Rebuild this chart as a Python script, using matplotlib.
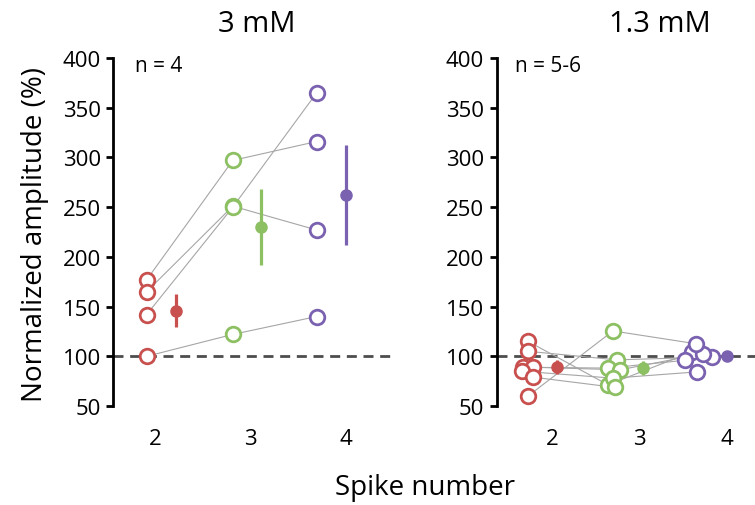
import matplotlib
matplotlib.use("Agg")
import matplotlib.pyplot as plt
import numpy as np

plt.rcParams['font.family'] = ['Open Sans', 'DejaVu Sans']

# --- data: 3 mM (n = 4), one row per cell: spike 2, 3, 4
amp_3mM_s2 = [177, 165, 142, 100]
amp_3mM_s3 = [297, 251, 250, 122]
amp_3mM_s4 = [316, 227, 365, 140]
mean_3mM = [146, 230, 262]
sem_3mM = [17, 38, 50]

# --- data: 1.3 mM (n = 5-6), nan = no spike 4 for that cell
amp_13mM_s2 = [115, 105, 89, 89, 85, 79, 60]
amp_13mM_s3 = [71.3, 96.4, 88.1, 86.4, 78, 68.7, 125.5]
amp_13mM_s4 = [104.3, 99.3, 96, 102.6, 84.3, np.nan, 112.6]
mean_13mM = [88.9, 87.8, 99.8]
sem_13mM = [7, 7, 4]

spike_labels = ['2', '3', '4']
titles = ['3 mM', '1.3 mM']
n_labels = ['n = 4', 'n = 5-6']

colours = ['#c8514f', '#8cc063', '#7a62b0']
GREY = '#a6a6a6'

fig = plt.figure(figsize=(7.55, 5.06), dpi=100)
ax1 = fig.add_axes([113.3 / 755, 1 - 407 / 506, (395 - 113.3) / 755, 348 / 506])
ax2 = fig.add_axes([496.7 / 755, 1 - 407 / 506, (755 - 496.7) / 755, 348 / 506])


def panel(ax, s2, s3, s4, means, sems, xlim, circ_x, mean_x, jitter=None):
    cols = np.array([s2, s3, s4], dtype=float)
    n = cols.shape[1]
    if jitter is None:
        jitter = np.zeros((3, n))
    xs = np.array(circ_x)[:, None] + np.array(jitter)

    ax.axhline(100, color='#4d4d4d', lw=2, ls=(0, (3.6, 2.4)), zorder=1)

    # individual cells joined by thin grey lines
    for i in range(n):
        ax.plot(xs[:, i], cols[:, i], color=GREY, lw=0.8, zorder=2)
    for k in range(3):
        ax.plot(xs[k], cols[k], 'o', ms=10.5, mfc='white', mec=colours[k],
                mew=2, zorder=3)
        ax.errorbar(mean_x[k], means[k], yerr=sems[k], fmt='o', ms=8,
                    color=colours[k], elinewidth=2.3, capsize=0, zorder=4)

    ax.set_xlim(*xlim)
    ax.set_ylim(50, 400)
    ax.set_yticks(np.arange(50, 401, 50))
    ax.set_xticks([2, 3, 4])
    ax.set_xticklabels(spike_labels)
    for s in ['top', 'right', 'bottom']:
        ax.spines[s].set_visible(False)
    ax.spines['left'].set_linewidth(2)
    ax.spines['left'].set_bounds(50, 400)
    ax.tick_params(axis='y', direction='out', length=5, width=2,
                   labelsize=16, pad=4)
    ax.tick_params(axis='x', length=0, labelsize=16, pad=16)
    ax.patch.set_alpha(0)


panel(ax1, amp_3mM_s2, amp_3mM_s3, amp_3mM_s4, mean_3mM, sem_3mM,
      (1.563, 4.513), [1.913, 2.814, 3.693], [2.217, 3.113, 3.997])

jit = np.array([[0, 0, -5, 5, -6, 5, 0],
                [-5, 4, -5, 7, 0, 2, 0],
                [-5, 15, -12, 6, 0, 0, -1]]) / 87.5
panel(ax2, amp_13mM_s2, amp_13mM_s3, amp_13mM_s4, mean_13mM, sem_13mM,
      (1.368, 4.32), [1.726, 2.697, 3.657], [2.057, 3.037, 3.997], jitter=jit)

fig.text(257 / 755, 1 - 25 / 506, titles[0], ha='center', va='center', fontsize=21)
fig.text(660 / 755, 1 - 25 / 506, titles[1], ha='center', va='center', fontsize=21)
fig.text(135 / 755, 1 - 66 / 506, n_labels[0], ha='left', va='center', fontsize=15)
fig.text(515 / 755, 1 - 66 / 506, n_labels[1], ha='left', va='center', fontsize=15)
fig.text(35 / 755, 1 - 235 / 506, 'Normalized amplitude (%)', rotation=90,
         ha='center', va='center', fontsize=20)
fig.text(425 / 755, 1 - 488 / 506, 'Spike number', ha='center', va='center',
         fontsize=20)

fig.savefig('out.png', dpi=100)
